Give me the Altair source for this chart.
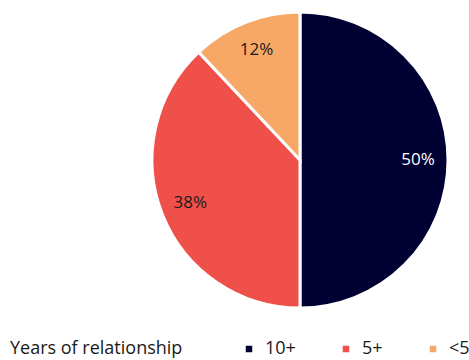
import altair as alt
import pandas as pd

categories = ["10+", "5+", "<5"]
shares = [50, 38, 12]
colors = ["#000033", "#F0504A", "#F7A866"]

df = pd.DataFrame({"cat": categories, "share": shares, "idx": list(range(len(categories)))})
df["label"] = df["share"].astype(str) + "%"

FONT = "Open Sans"

base = alt.Chart(df).encode(
    theta=alt.Theta("share:Q", stack=True),
    order=alt.Order("idx:Q"),
    x=alt.value(300),
    y=alt.value(160),
)

pie = base.mark_arc(radius=148, stroke="white", strokeWidth=3).encode(
    color=alt.Color(
        "cat:N",
        scale=alt.Scale(domain=categories, range=colors),
        sort=categories,
        legend=alt.Legend(
            title="Years of relationship",
            orient="none",
            legendX=10,
            legendY=340,
            direction="horizontal",
            titleOrient="left",
            titleFont=FONT,
            titleFontSize=18,
            titleFontWeight="normal",
            titleColor="#1a1a1a",
            labelFont=FONT,
            labelFontSize=18,
            labelColor="#1a1a1a",
            symbolType="square",
            symbolSize=42,
            symbolStrokeWidth=0,
            columnPadding=41,
            titlePadding=57,
            labelOffset=7,
        ),
    )
)

text = base.mark_text(radius=118, fontSize=17, font=FONT, baseline="middle").encode(
    text="label:N",
    color=alt.condition(alt.datum.cat == "10+", alt.value("white"), alt.value("#1a1a1a")),
)

chart = (
    alt.layer(pie, text)
    .properties(width=469, height=360, autosize=alt.AutoSizeParams(type="none"), padding=0)
    .configure_view(stroke=None)
)

chart.save("out.html", embed_options={"renderer": "svg", "actions": False})
